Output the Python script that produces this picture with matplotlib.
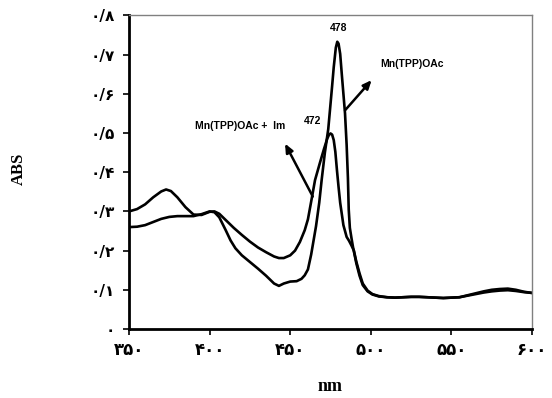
import matplotlib
matplotlib.use("Agg")
import matplotlib.pyplot as plt

# Mn(TPP)OAc + Im
im_nm = [350, 355, 360, 365, 370, 373, 376, 380, 385, 390, 395, 400, 403, 406, 410,
         415, 420, 425, 430, 435, 440, 443, 446, 450, 453, 456, 459, 461, 463, 465.4,
         468.5, 471, 473, 474, 475, 476, 477, 478, 479, 480, 481, 483, 485, 486.5, 488,
         489.5, 491, 493, 495, 498, 501, 505, 510, 515, 520, 525, 530, 535, 540, 545,
         550, 555, 560, 565, 570, 575, 580, 585, 590, 595, 600]
im_abs = [0.300, 0.306, 0.318, 0.336, 0.351, 0.356, 0.352, 0.336, 0.311, 0.292, 0.291,
          0.299, 0.300, 0.294, 0.278, 0.258, 0.240, 0.223, 0.208, 0.196, 0.185, 0.181,
          0.181, 0.188, 0.200, 0.222, 0.252, 0.280, 0.325, 0.380, 0.425, 0.460, 0.486,
          0.495, 0.499, 0.496, 0.482, 0.452, 0.405, 0.362, 0.322, 0.265, 0.235, 0.225,
          0.213, 0.200, 0.172, 0.142, 0.116, 0.098, 0.089, 0.084, 0.081, 0.080, 0.081,
          0.082, 0.082, 0.081, 0.080, 0.079, 0.080, 0.081, 0.085, 0.089, 0.093, 0.096,
          0.098, 0.099, 0.097, 0.094, 0.092]

# Mn(TPP)OAc
mn_nm = [350, 355, 360, 365, 370, 375, 380, 385, 390, 395, 400, 403, 406, 410, 413,
         416, 420, 425, 430, 435, 440, 443, 446, 450, 454, 457, 459, 461, 463, 466,
         468, 469.5, 471.5, 473.6, 476, 477, 478.3, 479.2, 480, 481, 482, 484, 485,
         485.8, 486.3, 487, 488, 489, 491, 493, 495, 498, 501, 505, 510, 515, 520, 525,
         530, 535, 540, 545, 550, 555, 560, 565, 570, 575, 580, 585, 590, 595, 600]
mn_abs = [0.260, 0.261, 0.265, 0.273, 0.281, 0.286, 0.288, 0.288, 0.288, 0.293, 0.300,
          0.298, 0.285, 0.252, 0.226, 0.206, 0.188, 0.171, 0.154, 0.136, 0.116, 0.110,
          0.116, 0.121, 0.122, 0.128, 0.137, 0.152, 0.190, 0.262, 0.322, 0.380, 0.450,
          0.510, 0.620, 0.668, 0.718, 0.733, 0.728, 0.702, 0.650, 0.550, 0.470, 0.385,
          0.305, 0.258, 0.232, 0.208, 0.168, 0.136, 0.112, 0.096, 0.088, 0.083, 0.081,
          0.080, 0.081, 0.082, 0.082, 0.081, 0.080, 0.079, 0.080, 0.081, 0.086, 0.091,
          0.096, 0.100, 0.102, 0.103, 0.100, 0.095, 0.092]

x_ticks = [350, 400, 450, 500, 550, 600]
x_labels = ["۳۵۰", "۴۰۰", "۴۵۰", "۵۰۰", "۵۵۰", "۶۰۰"]
y_ticks = [0, 0.1, 0.2, 0.3, 0.4, 0.5, 0.6, 0.7, 0.8]
y_labels = ["۰", "۰/۱", "۰/۲", "۰/۳", "۰/۴", "۰/۵", "۰/۶", "۰/۷", "۰/۸"]

fig = plt.figure(figsize=(5.52, 3.98), dpi=100)
ax = fig.add_axes([0.2337, 0.1734, 0.7301, 0.7877])

ax.plot(im_nm, im_abs, color="black", lw=1.9, solid_capstyle="round", solid_joinstyle="round")
ax.plot(mn_nm, mn_abs, color="black", lw=1.9, solid_capstyle="round", solid_joinstyle="round")

ax.set_xlim(350, 600)
ax.set_ylim(0, 0.8)
ax.set_xticks(x_ticks)
ax.set_xticklabels(x_labels, fontsize=12, fontweight="bold", family=["DejaVu Sans"])
ax.set_yticks(y_ticks)
ax.set_yticklabels(y_labels, fontsize=11, fontweight="bold", family=["DejaVu Sans"])
ax.tick_params(axis="both", direction="out", length=4, width=1.2, colors="black")
ax.tick_params(axis="x", pad=5)
ax.tick_params(axis="y", pad=6)

for s in ["left", "bottom"]:
    ax.spines[s].set_linewidth(2.0)
    ax.spines[s].set_color("black")
for s in ["top", "right"]:
    ax.spines[s].set_linewidth(1.0)
    ax.spines[s].set_color("#808080")

ax.set_xlabel("nm", fontsize=13, fontweight="bold", family="Liberation Serif", labelpad=13)
fig.text(0.034, 0.575, "ABS", rotation=90, fontsize=12, fontweight="bold",
         family="Liberation Serif", ha="center", va="center")

lab_kw = dict(fontsize=7.5, fontweight="bold", family="Liberation Sans", ha="center", va="center")
ax.text(480, 0.767, "478", **lab_kw)
ax.text(464, 0.530, "472", **lab_kw)
ax.text(525.5, 0.675, "Mn(TPP)OAc", **lab_kw)
ax.text(419, 0.517, "Mn(TPP)OAc +  Im", **lab_kw)

arrow_kw = dict(arrowstyle="-|>,head_length=0.5,head_width=0.22", color="black", lw=1.8,
                shrinkA=0, shrinkB=0)
ax.annotate("", xy=(500.5, 0.635), xytext=(484, 0.558), arrowprops=arrow_kw)
ax.annotate("", xy=(446.8, 0.473), xytext=(464, 0.338), arrowprops=arrow_kw)

fig.savefig("out.png", dpi=100)
